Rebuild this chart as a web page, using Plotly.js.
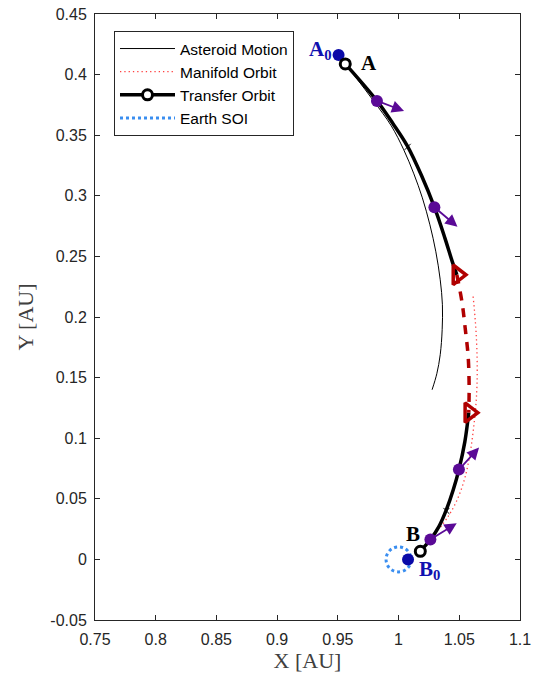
<!DOCTYPE html>
<html>
<head>
<meta charset="utf-8">
<script src="https://cdn.plot.ly/plotly-3.0.1.min.js"></script>
<style>html,body{margin:0;padding:0;background:#fff;}#chart{width:535px;height:683px;}</style>
</head>
<body>
<div id="chart"></div>
<script>
// ---- Data ----
const asteroidX = [0.9506, 0.9652, 0.9800, 0.9940, 1.0043, 1.0126, 1.0196, 1.0258, 1.0307, 1.0343, 1.0361, 1.0359, 1.0343, 1.0315, 1.0276];
const asteroidY = [0.4162, 0.3972, 0.3775, 0.3577, 0.3379, 0.3181, 0.2983, 0.2761, 0.2538, 0.2307, 0.2101, 0.1895, 0.1689, 0.1532, 0.1400];

const manifoldX = [1.0614, 1.0633, 1.0645, 1.0647, 1.0637, 1.0616, 1.0587, 1.0542, 1.0476, 1.0402, 1.0330];
const manifoldY = [0.2169, 0.1953, 0.1730, 0.1483, 0.1277, 0.1071, 0.0864, 0.0658, 0.0477, 0.0345, 0.0246];

const transferX = [0.9561, 0.9822, 0.9953, 1.0072, 1.0188, 1.0295, 1.0381, 1.0443, 1.0480, null,
                   1.0578, 1.0546, 1.0497, 1.0451, 1.0394, 1.0332, 1.0262, 1.0179];
const transferY = [0.4088, 0.3783, 0.3597, 0.3412, 0.3169, 0.2906, 0.2653, 0.2455, 0.2348, null,
                   0.1211, 0.0972, 0.0741, 0.0576, 0.0411, 0.0271, 0.0164, 0.0067];

const arcX = [1.0480, 1.0523, 1.0550, 1.0573, 1.0581, 1.0578];
const arcY = [0.2348, 0.2118, 0.1895, 0.1675, 0.1428, 0.1211];

const triX = [1.0485, 1.0583];
const triY = [0.2348, 0.1211];

const endpointX = [0.9561, null, 1.0179];
const endpointY = [0.4088, null, 0.0067];

const refX = [0.9506, 1.0078];
const refY = [0.4162, 0.0000];

const pointX = [0.9822, 1.0295, 1.0497, 1.0262];
const pointY = [0.3783, 0.2906, 0.0741, 0.0164];
const tipX = [1.0045, 1.0485, 1.0663, 1.0479];
const tipY = [0.3699, 0.2744, 0.0923, 0.0298];

const crossX = [1.0075, 1.0394];
const crossY = [0.3404, 0.0400];

const soiCenter = [1.0, 0.0];
const soiRadius = 0.0103;

const labelText = ['A<sub>0</sub>', 'A', 'B', 'B<sub>0</sub>'];
const labelX = [0.9462, 0.9685, 1.0122, 1.0163];
const labelY = [0.4203, 0.4092, 0.0213, -0.0084];
const labelColor = ['#1010b0', '#000000', '#000000', '#1010b0'];
const labelAnchor = ['right', 'left', 'center', 'left'];

const xTicks = [0.75, 0.8, 0.85, 0.9, 0.95, 1, 1.05, 1.1];
const xTickText = ['0.75', '0.8', '0.85', '0.9', '0.95', '1', '1.05', '1.1'];
const yTicks = [-0.05, 0, 0.05, 0.1, 0.15, 0.2, 0.25, 0.3, 0.35, 0.4, 0.45];
const yTickText = ['-0.05', '0', '0.05', '0.1', '0.15', '0.2', '0.25', '0.3', '0.35', '0.4', '0.45'];

// ---- Traces ----
const purple = '#5a0a96';
const darkRed = '#b00000';
const traces = [
  {x: asteroidX, y: asteroidY, mode: 'lines', name: 'Asteroid Motion',
   line: {color: '#000000', width: 1, shape: 'spline', smoothing: 1}},
  {x: manifoldX, y: manifoldY, mode: 'lines', name: 'Manifold Orbit',
   line: {color: '#ff4040', width: 1.3, dash: '1.3px,3px', shape: 'spline', smoothing: 1}},
  {x: transferX, y: transferY, mode: 'lines', showlegend: false, connectgaps: false,
   line: {color: '#000000', width: 3.5, shape: 'spline', smoothing: 1}},
  {x: arcX, y: arcY, mode: 'lines', showlegend: false,
   line: {color: darkRed, width: 3.5, dash: '9px,8px', shape: 'spline', smoothing: 1}},
  {x: triX, y: triY, mode: 'markers', showlegend: false,
   marker: {symbol: 'triangle-right-open', size: 17, color: darkRed, line: {width: 3.5, color: darkRed}}},
  {x: refX, y: refY, mode: 'markers', showlegend: false,
   marker: {symbol: 'circle', size: 12, color: '#0a0aa8'}},
  {x: pointX, y: pointY, mode: 'markers', showlegend: false,
   marker: {symbol: 'circle', size: 12, color: purple}},
  {x: crossX, y: crossY, mode: 'markers', showlegend: false,
   marker: {symbol: 'x-thin-open', size: 6, color: '#000000', line: {width: 1, color: '#000000'}}},
  {x: endpointX, y: endpointY, mode: 'lines+markers', name: 'Transfer Orbit', connectgaps: false,
   line: {color: '#000000', width: 3.5},
   marker: {symbol: 'circle', size: 10, color: '#ffffff', line: {width: 3, color: '#000000'}}},
  {x: [null], y: [null], mode: 'lines', name: 'Earth SOI',
   line: {color: '#3a8ef0', width: 3, dash: 'dot'}}
];

const annotations = [];
for (let i = 0; i < tipX.length; i++) {
  annotations.push({x: tipX[i], y: tipY[i], ax: pointX[i], ay: pointY[i], xref: 'x', yref: 'y',
    axref: 'x', ayref: 'y', text: '', showarrow: true, arrowhead: 2, arrowsize: 1.35,
    arrowwidth: 1.8, arrowcolor: purple, standoff: 0, startstandoff: 0});
}
for (let i = 0; i < labelText.length; i++) {
  annotations.push({x: labelX[i], y: labelY[i], xref: 'x', yref: 'y', text: '<b>' + labelText[i] + '</b>',
    showarrow: false, xanchor: labelAnchor[i], yanchor: 'middle', borderpad: 0,
    font: {family: 'Liberation Serif, Times New Roman, serif', size: 21, color: labelColor[i]}});
}

const axisCommon = {
  showgrid: false, zeroline: false, showline: true, linecolor: '#262626', linewidth: 1,
  mirror: 'ticks', ticks: 'inside', ticklen: 5, tickcolor: '#262626', tickwidth: 1,
  tickfont: {family: 'Liberation Sans, Arial, sans-serif', size: 16, color: '#262626'}
};

const layout = {
  width: 535, height: 683,
  margin: {l: 95, r: 15, t: 14, b: 63},
  paper_bgcolor: '#ffffff', plot_bgcolor: '#ffffff',
  showlegend: true,
  legend: {x: 0.0447, y: 0.972, xanchor: 'left', yanchor: 'top', bgcolor: '#ffffff',
    bordercolor: '#262626', borderwidth: 1, itemwidth: 55, tracegroupgap: 0,
    font: {family: 'Liberation Sans, Arial, sans-serif', size: 15.5, color: '#000000'}},
  xaxis: Object.assign({}, axisCommon, {range: [0.75, 1.1], tickmode: 'array', tickvals: xTicks, ticktext: xTickText,
    ticklabelstandoff: 5,
    title: {text: 'X [AU]', font: {family: 'Liberation Serif, Times New Roman, serif', size: 22, color: '#404040'}, standoff: 4}}),
  yaxis: Object.assign({}, axisCommon, {range: [-0.05, 0.45], tickmode: 'array', tickvals: yTicks, ticktext: yTickText,
    ticklabelstandoff: 4,
    title: {text: 'Y [AU]', font: {family: 'Liberation Serif, Times New Roman, serif', size: 22, color: '#404040'}, standoff: 10}}),
  shapes: [{type: 'circle', xref: 'x', yref: 'y', layer: 'below',
    x0: soiCenter[0] - soiRadius, x1: soiCenter[0] + soiRadius,
    y0: soiCenter[1] - soiRadius, y1: soiCenter[1] + soiRadius,
    line: {color: '#3a8ef0', width: 3, dash: 'dot'}}],
  annotations: annotations
};

Plotly.newPlot('chart', traces, layout, {displayModeBar: false, staticPlot: true});
</script>
</body>
</html>
